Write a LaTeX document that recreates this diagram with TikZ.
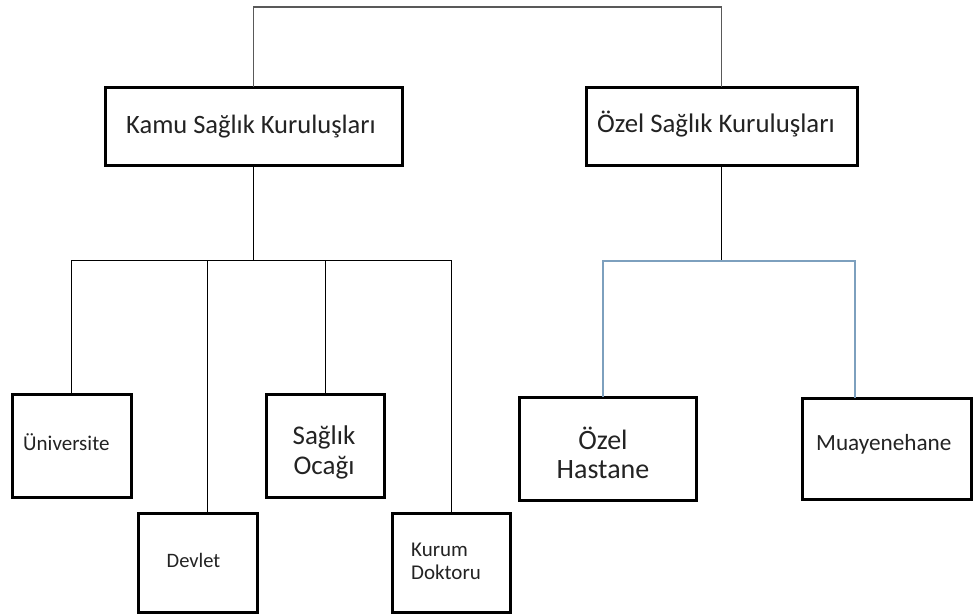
\documentclass[tikz,border=0pt]{standalone}
\usepackage{fontspec}
\setmainfont{Carlito}
\definecolor{bluegray}{RGB}{125,160,190}
\definecolor{txt}{RGB}{35,35,35}
\begin{document}
\begin{tikzpicture}[x=1pt,y=-1pt,
 box/.style={draw=black, line width=3pt, rectangle, inner sep=0pt, outer sep=0pt, fill=white},
 conn/.style={draw=black, line width=1pt},
 topconn/.style={draw=black!65, line width=1.3pt},
 bconn/.style={draw=bluegray, line width=1.2pt},
 lbl/.style={text=txt, inner sep=0pt},
]
\useasboundingbox (0,0) rectangle (973,614);
\clip (0,0) rectangle (973,614);

% top level boxes
\node[box, minimum width=297pt, minimum height=78pt] (kamu) at (253.5,126) {};
\node[lbl, font=\fontsize{26.5}{31}\selectfont] (kamut) at (251,127) {Kamu Sağlık Kuruluşları};
\node[box, minimum width=271pt, minimum height=78pt] (ozel) at (721.5,126) {};
\node[lbl, font=\fontsize{26.8}{31}\selectfont] (ozelt) at (716,124) {Özel Sağlık Kuruluşları};

% public children
\node[box, minimum width=119pt, minimum height=103pt] (uni) at (71.5,445.5) {};
\node[lbl, anchor=west, font=\fontsize{21}{25}\selectfont] (unit) at (23,442) {Üniversite};
\node[box, minimum width=119pt, minimum height=99.5pt] (devlet) at (197.5,562.75) {};
\node[lbl, font=\fontsize{20.5}{24}\selectfont] (devt) at (193.5,560) {Devlet};
\node[box, minimum width=118pt, minimum height=103pt] (so) at (325,445.5) {};
\node[lbl, align=center, font=\fontsize{27}{30}\selectfont] (sot) at (324,452) {Sağlık\\Ocağı};
\node[box, minimum width=118pt, minimum height=99.5pt] (kurum) at (451,562.75) {};
\node[lbl, anchor=west, align=left, font=\fontsize{21}{23}\selectfont] (kurumt) at (411,561) {Kurum\\Doktoru};

% private children
\node[box, minimum width=177pt, minimum height=103pt] (oh) at (607.5,448.5) {};
\node[lbl, align=center, font=\fontsize{28}{29}\selectfont] (oht) at (603,453) {Özel\\Hastane};
\node[box, minimum width=169.5pt, minimum height=101pt] (muay) at (886.75,448.5) {};
\node[lbl, anchor=west, font=\fontsize{23.2}{27}\selectfont] (muayt) at (816,444) {Muayenehane};

% connectors
\coordinate (top) at (0,7);
\draw[topconn] (kamu.north) -- (kamu.north |- top) -- (ozel.north |- top) -- (ozel.north);

\coordinate (kj) at (0,260);
\draw[conn] (kamu.south) -- (kamu.south |- kj);
\draw[conn] (uni.north) -- (uni.north |- kj) -- (kurum.north |- kj) -- (kurum.north);
\draw[conn] ([xshift=9.5pt]devlet.north) -- ([xshift=9.5pt]devlet.north |- kj);
\draw[conn] (so.north) -- (so.north |- kj);

\coordinate (oj) at (0,261);
\draw[conn] (ozel.south) -- (ozel.south |- oj);
\draw[bconn] ([xshift=-4.5pt]oh.north) -- ([xshift=-4.5pt]oh.north |- oj) -- ([xshift=-31.75pt]muay.north |- oj) -- ([xshift=-31.75pt]muay.north);
\end{tikzpicture}
\end{document}
